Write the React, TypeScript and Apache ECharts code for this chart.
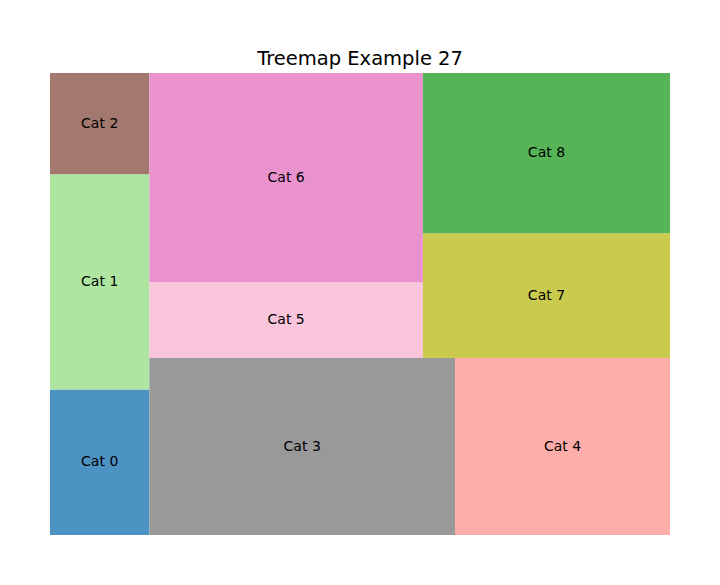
import React, { useEffect, useRef } from "react";
import * as echarts from "echarts";

const categories = ["Cat 0", "Cat 1", "Cat 2", "Cat 3", "Cat 4", "Cat 5", "Cat 6", "Cat 7", "Cat 8"];
const values = [23, 34, 16, 86, 60.5, 33, 91, 49, 63];
const colors = ["#4c92c3", "#ade5a1", "#a3786f", "#999999", "#ffadab", "#f9c5db", "#e992ce", "#c9ca4e", "#56b356"];
const titleText = "Treemap Example 27";

type R = { x: number; y: number; dx: number; dy: number };

function layoutrow(s: number[], x: number, y: number, dx: number, dy: number): R[] {
  const w = s.reduce((a, b) => a + b, 0) / dy;
  const out: R[] = [];
  for (const v of s) { out.push({ x, y, dx: w, dy: v / w }); y += v / w; }
  return out;
}
function layoutcol(s: number[], x: number, y: number, dx: number, dy: number): R[] {
  const h = s.reduce((a, b) => a + b, 0) / dx;
  const out: R[] = [];
  for (const v of s) { out.push({ x, y, dx: v / h, dy: h }); x += v / h; }
  return out;
}
function layout(s: number[], x: number, y: number, dx: number, dy: number) {
  return dx >= dy ? layoutrow(s, x, y, dx, dy) : layoutcol(s, x, y, dx, dy);
}
function leftover(s: number[], x: number, y: number, dx: number, dy: number): [number, number, number, number] {
  const a = s.reduce((p, q) => p + q, 0);
  if (dx >= dy) { const w = a / dy; return [x + w, y, dx - w, dy]; }
  const h = a / dx; return [x, y + h, dx, dy - h];
}
function worst(s: number[], x: number, y: number, dx: number, dy: number) {
  return Math.max(...layout(s, x, y, dx, dy).map((r) => Math.max(r.dx / r.dy, r.dy / r.dx)));
}
function squarify(s: number[], x: number, y: number, dx: number, dy: number): R[] {
  if (s.length === 0) return [];
  if (s.length === 1) return layout(s, x, y, dx, dy);
  let i = 1;
  while (i < s.length && worst(s.slice(0, i), x, y, dx, dy) >= worst(s.slice(0, i + 1), x, y, dx, dy)) i++;
  const cur = s.slice(0, i);
  const rem = s.slice(i);
  const [lx, ly, ldx, ldy] = leftover(cur, x, y, dx, dy);
  return layout(cur, x, y, dx, dy).concat(squarify(rem, lx, ly, ldx, ldy));
}

export default function App() {
  const ref = useRef<HTMLDivElement>(null);
  useEffect(() => {
    if (!ref.current) return;
    const chart = echarts.init(ref.current, null, { renderer: "svg" });
    const total = values.reduce((a, b) => a + b, 0);
    const norm = values.map((v) => (v * 10000) / total);
    const rects = squarify(norm, 0, 0, 100, 100);
    const data = rects.map((r, i) => [r.x, r.y, r.dx, r.dy, i]);
    chart.setOption({
      animation: false,
      title: {
        text: titleText,
        left: "center",
        top: 43,
        textStyle: { fontFamily: "DejaVu Sans", fontSize: 19.5, fontWeight: "normal", color: "#000" },
      },
      grid: { left: 50, right: 50, top: 73, bottom: 50 },
      xAxis: { type: "value", min: 0, max: 100, show: false },
      yAxis: { type: "value", min: 0, max: 100, show: false },
      series: [
        {
          type: "custom",
          data,
          renderItem: (params: any, api: any) => {
            const x = api.value(0), y = api.value(1), dx = api.value(2), dy = api.value(3);
            const idx = api.value(4);
            const p0 = api.coord([x, y + dy]);
            const p1 = api.coord([x + dx, y]);
            return {
              type: "group",
              children: [
                {
                  type: "rect",
                  shape: { x: p0[0], y: p0[1], width: p1[0] - p0[0], height: p1[1] - p0[1] },
                  style: { fill: colors[idx] },
                },
                {
                  type: "text",
                  x: (p0[0] + p1[0]) / 2,
                  y: (p0[1] + p1[1]) / 2 - 1,
                  style: {
                    text: categories[idx],
                    fill: "#000",
                    font: "14px 'DejaVu Sans'",
                    align: "center",
                    verticalAlign: "middle",
                  },
                },
              ],
            };
          },
        },
      ],
    });
    return () => chart.dispose();
  }, []);
  return <div ref={ref} style={{ width: 720, height: 585, position: "absolute", left: 0, top: 0 }} />;
}
